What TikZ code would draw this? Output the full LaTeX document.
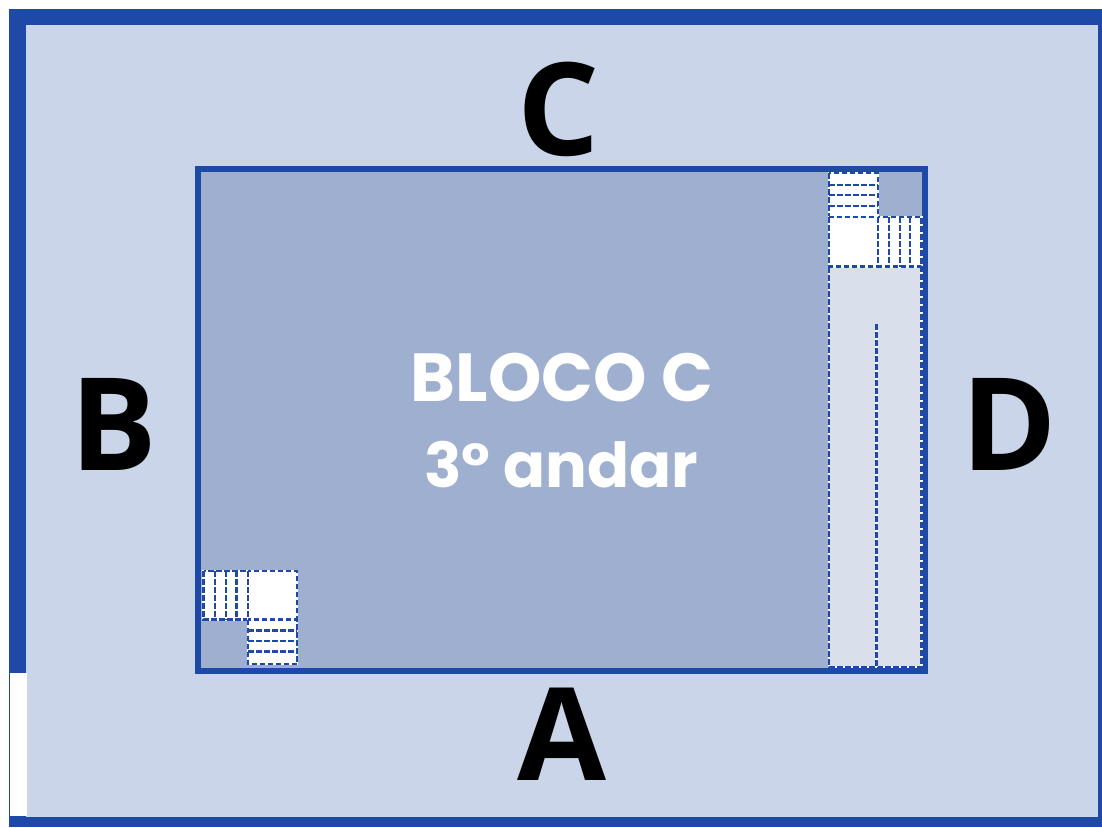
\documentclass[tikz,border=0pt]{standalone}
\usepackage{fontspec}
\setmainfont{Open Sans}
\newfontfamily\titlefont{Poppins}
\definecolor{wallblue}{HTML}{1F49A6}
\definecolor{sitelight}{HTML}{CAD5EA}
\definecolor{floorblue}{HTML}{9EAFCF}
\definecolor{stripgrey}{HTML}{D8DFEB}
\tikzset{
  wall/.style={draw=wallblue, line width=6.8pt},
  side/.style={anchor=base, font=\fontsize{129}{129}\selectfont\bfseries, text=black, inner sep=0pt},
  title/.style={anchor=base, font=\fontsize{68}{68}\selectfont\titlefont\bfseries, text=white, inner sep=0pt},
  subtitle/.style={anchor=base, font=\fontsize{62}{62}\selectfont\titlefont\bfseries, text=white, inner sep=0pt},
  gapline/.style={draw=white, line width=2.6pt},
  dashline/.style={draw=wallblue, line width=2.2pt, dash pattern=on 5.5pt off 2.5pt}
}
\newcommand{\dashrect}[2]{
\draw[gapline] #1 rectangle #2;
\draw[dashline] #1 rectangle #2;
}
\newcommand{\dashseg}[2]{
\draw[gapline] #1 -- #2;
\draw[dashline] #1 -- #2;
}
\begin{document}
\begin{tikzpicture}[x=1pt,y=-1pt]
\useasboundingbox (0,0) rectangle (1102,827);
\fill[white] (0,0) rectangle (1102,827);
% site
\fill[wallblue] (9,9) rectangle (1102,827);
\fill[sitelight] (26,25) rectangle (1098,817);
\fill[white] (10,673) rectangle (27,816);
% block
\fill[floorblue] (198,169) rectangle (925,671);
\draw[wall] (198,169) rectangle (925,671);
% strip on the right
\fill[stripgrey] (829,267) rectangle (921.5,667);
\dashrect{(829,267)}{(921.5,667)}
\dashseg{(876.5,324)}{(876.5,667)}
% upper rooms
\fill[white] (829,173) rectangle (878,266.5);
\fill[white] (878,217) rectangle (921.5,266.5);
\dashrect{(829,173)}{(878,217)}
\dashrect{(829,217)}{(878,266.5)}
\dashrect{(878,217)}{(921.5,266.5)}
\foreach \y in {185,195,206}{
\draw[dashline] (829,\y)--(878,\y);
}
\foreach \x in {889,900,910}{
\draw[dashline] (\x,217)--(\x,266.5);
}
% lower rooms
\fill[white] (203.5,571) rectangle (297,619.5);
\fill[white] (248,619.5) rectangle (297,664);
\dashrect{(203.5,571)}{(248,619.5)}
\dashrect{(248,571)}{(297,619.5)}
\dashrect{(248,619.5)}{(297,664)}
\foreach \x in {215,226,236.5}{
\draw[dashline] (\x,571)--(\x,619.5);
}
\foreach \y in {630.5,641,651.5}{
\draw[dashline] (248,\y)--(297,\y);
}
% labels
\node[side] (sideC) at (559,155) {C};
\node[side] (sideB) at (114,470) {B};
\node[side] (sideD) at (1009,470) {D};
\node[side] (sideA) at (562,780) {A};
\node[title] (blockname) at (562,401) {BLOCO C};
\node[subtitle] (floorname) at (561,487) {3° andar};
\end{tikzpicture}
\end{document}
